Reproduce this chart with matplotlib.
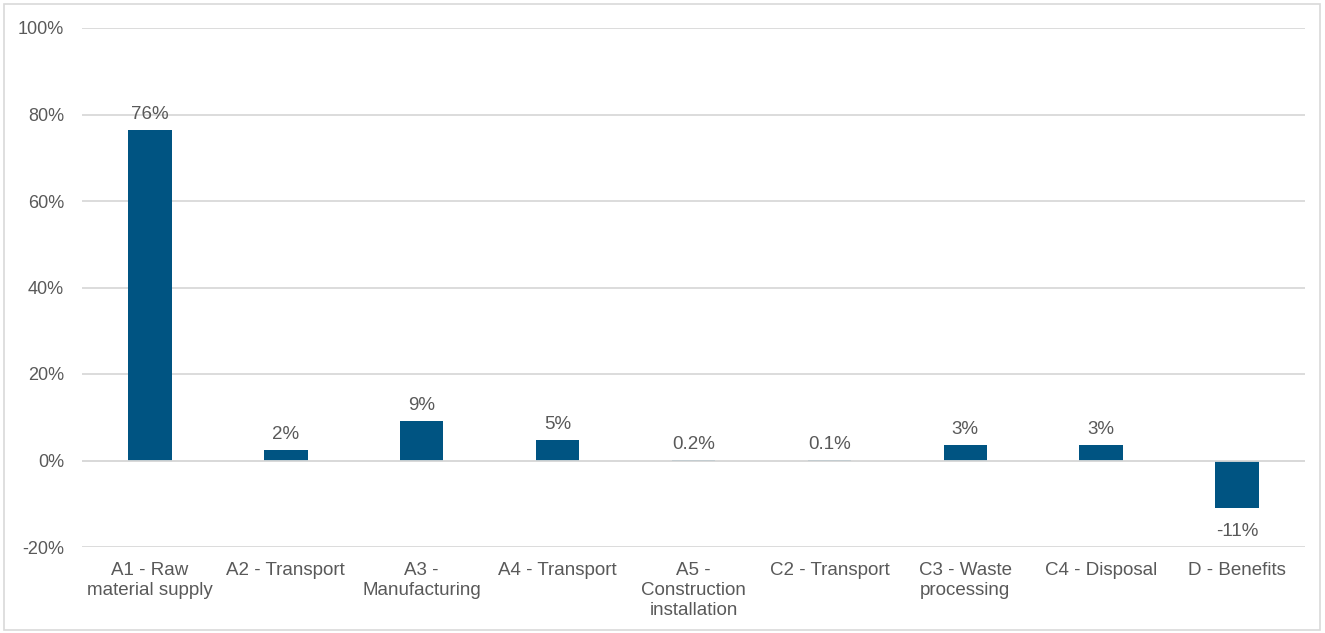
import matplotlib.pyplot as plt
from matplotlib.patches import Rectangle
import numpy as np

plt.rcParams['font.family'] = ['Liberation Sans', 'DejaVu Sans']

categories = ["A1 - Raw\nmaterial supply", "A2 - Transport", "A3 -\nManufacturing",
              "A4 - Transport", "A5 -\nConstruction\ninstallation", "C2 - Transport",
              "C3 - Waste\nprocessing", "C4 - Disposal", "D - Benefits"]
values = [76.4, 2.5, 9.2, 4.8, 0.2, 0.1, 3.5, 3.5, -10.9]
value_labels = ["76%", "2%", "9%", "5%", "0.2%", "0.1%", "3%", "3%", "-11%"]

bar_color = "#005482"
text_color = "#595959"
grid_color = "#d9d9d9"
fs = 13.5

fig = plt.figure(figsize=(13.25, 6.33), dpi=100)
ax = fig.add_axes([82 / 1325, 1 - 547 / 633, (1305 - 82) / 1325, (547 - 28) / 633])

x = np.arange(len(categories))
bars = ax.bar(x, values, width=0.32, color=bar_color, zorder=3)

for xi, v, lab in zip(x, values, value_labels):
    if v >= 0:
        ax.annotate(lab, (xi, v), xytext=(0, 5), textcoords="offset points",
                    ha="center", va="bottom", fontsize=fs, color=text_color)
    else:
        ax.annotate(lab, (xi, v), xytext=(0, -11), textcoords="offset points",
                    ha="center", va="top", fontsize=fs, color=text_color)

ax.set_xlim(-0.5, len(categories) - 0.5)
ax.set_ylim(-20, 100)
ax.set_yticks(np.arange(-20, 101, 20))
ax.set_yticklabels([f"{t}%" for t in range(-20, 101, 20)])
ax.set_xticks(x)
ax.set_xticklabels(categories, linespacing=1.22)
ax.tick_params(axis="both", length=0, colors=text_color, labelsize=fs)
ax.tick_params(axis="y", pad=13, labelsize=13)
ax.tick_params(axis="x", pad=11)

ax.yaxis.grid(True, color=grid_color, linewidth=1.3, zorder=0)
ax.axhline(0, color=grid_color, linewidth=1.3, zorder=4)
for s in ax.spines.values():
    s.set_visible(False)

# light border around the whole chart
fig.patches.append(Rectangle((4 / 1325, 3 / 633), 1316 / 1325, 626 / 633,
                             transform=fig.transFigure, fill=False,
                             edgecolor="#d9d9d9", linewidth=1.2))

fig.savefig("out.png", dpi=100)
